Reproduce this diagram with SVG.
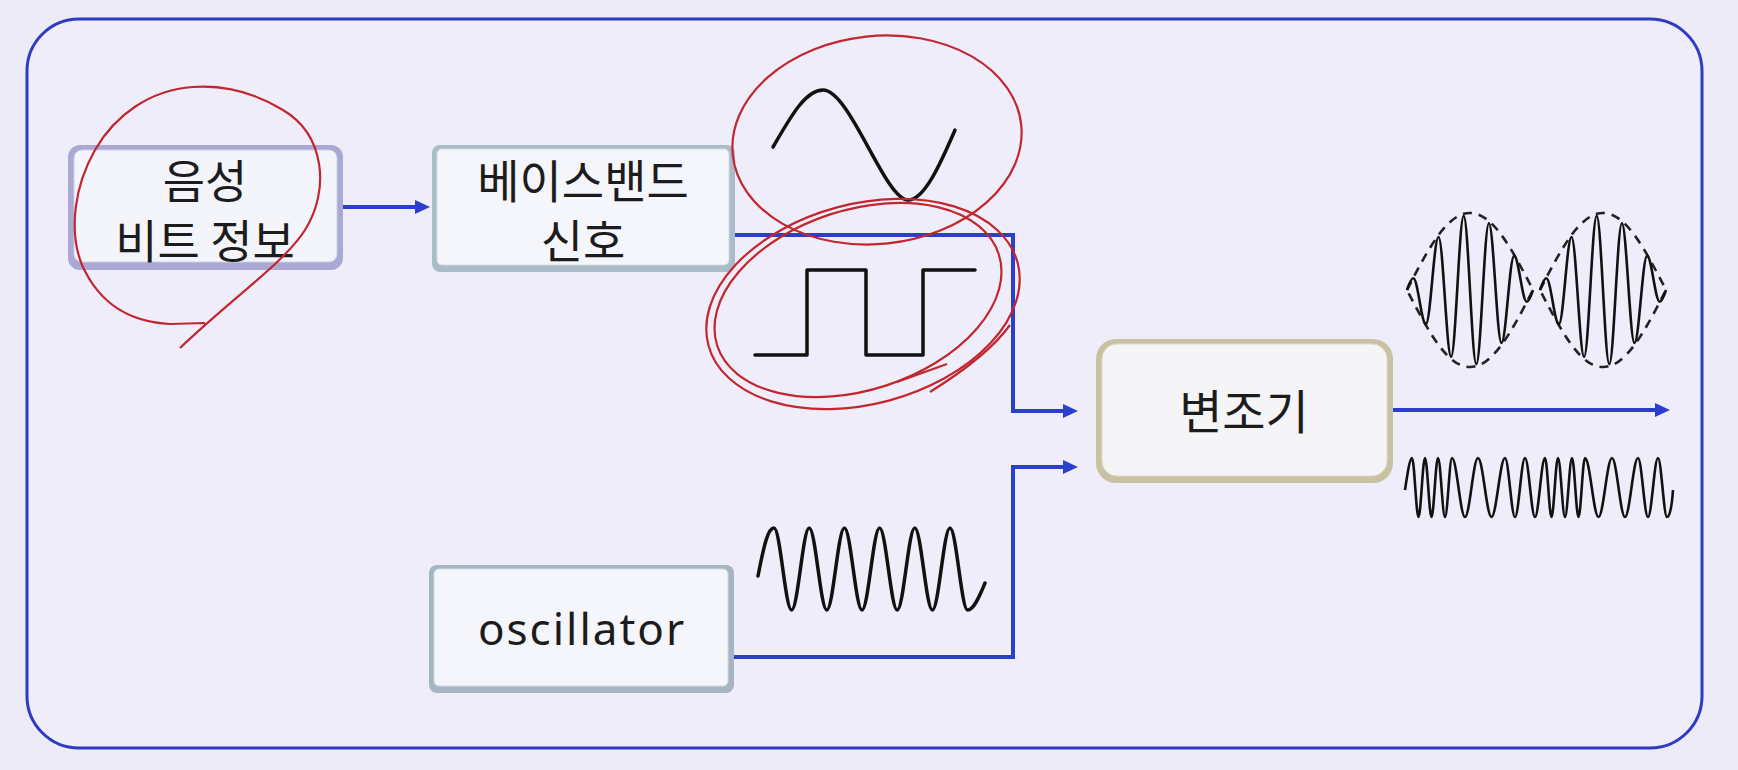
<svg xmlns="http://www.w3.org/2000/svg" width="1738" height="770" viewBox="0 0 1738 770">
<defs>
<style>
.kr{font-family:"Noto Sans CJK KR","Noto Sans",sans-serif;font-size:46px;fill:#1c1c1c;text-anchor:middle}
.en{font-family:"Noto Sans","Open Sans",sans-serif;font-size:44px;fill:#1c1c1c;text-anchor:middle;letter-spacing:2px}
.conn{fill:none;stroke:#2b3fcc;stroke-width:4}
.wave{fill:none;stroke:#111;stroke-width:3.5;stroke-linejoin:round;stroke-linecap:round}
.thin{fill:none;stroke:#111;stroke-width:2.6;stroke-linejoin:round}
.env{fill:none;stroke:#222;stroke-width:2.6;stroke-dasharray:9 7}
.red{fill:none;stroke:#c3262e;stroke-width:2.2}
</style>
<marker id="ah" markerUnits="userSpaceOnUse" markerWidth="16" markerHeight="14" refX="5" refY="7" orient="auto">
<path d="M0,0 L15,7 L0,14 Z" fill="#2b3fcc"/>
</marker>
<g id="amlobe">
<path class="env" d="M1407,290 C1430,245 1448,213 1470,213 C1492,213 1510,245 1533,290 C1510,335 1492,367 1470,367 C1448,367 1430,335 1407,290 Z"/>
<path class="thin" d="M1407,290 C1409,284 1411,278.3 1413.3,278.3 C1417.8,278.3 1421.4,324.1 1425.9,324.1 C1430.4,324.1 1434,237 1438.5,237 C1443,237 1446.6,356.8 1451.1,356.8 C1455.6,356.8 1459.2,215.9 1463.7,215.9 C1468.2,215.9 1471.8,364.1 1476.3,364.1 C1480.8,364.1 1484.4,223.2 1488.9,223.2 C1493.4,223.2 1497,343 1501.5,343 C1506,343 1509.6,255.9 1514.1,255.9 C1518.6,255.9 1522.2,301.7 1526.7,301.7 C1529,301.7 1531,296 1533,290"/>
</g>
</defs>
<rect x="0" y="0" width="1738" height="770" fill="#ecebf7"/>
<rect x="27" y="19" width="1675" height="729" rx="52" fill="#eeedf9" stroke="#2d3cc0" stroke-width="3"/>

<g id="connectors">
<line class="conn" x1="343" y1="207" x2="420" y2="207" marker-end="url(#ah)"/>
<polyline class="conn" points="722,235 1013,235 1013,411 1068,411" marker-end="url(#ah)"/>
<polyline class="conn" points="722,657 1013,657 1013,467 1068,467" marker-end="url(#ah)"/>
<line class="conn" x1="1393" y1="410" x2="1660" y2="410" marker-end="url(#ah)"/>
</g>

<g id="node-voice">
<rect x="68" y="145" width="275" height="125" rx="12" fill="#a9a9d4"/>
<rect x="74" y="150" width="263" height="112" rx="8" fill="#f4f4fb" stroke="#cfcfe9" stroke-width="1"/>
<text class="kr" x="205" y="198">음성</text>
<text class="kr" x="205" y="258">비트 정보</text>
</g>

<g id="node-baseband">
<rect x="432" y="145" width="303" height="127" rx="8" fill="#a9bcc7"/>
<rect x="437" y="149" width="292" height="116" rx="5" fill="#f5f6fb" stroke="#d3dde3" stroke-width="1"/>
<text class="kr" x="583" y="198">베이스밴드</text>
<text class="kr" x="583" y="258">신호</text>
</g>

<g id="node-oscillator">
<rect x="429" y="565" width="305" height="128" rx="8" fill="#a6b5c1"/>
<rect x="434" y="569" width="294" height="117" rx="5" fill="#f5f6fb" stroke="#d3dce3" stroke-width="1"/>
<text class="en" x="582" y="645">oscillator</text>
</g>

<g id="node-modulator">
<rect x="1096" y="339" width="297" height="144" rx="20" fill="#c8c2a3"/>
<rect x="1102" y="344" width="285" height="132" rx="15" fill="#f5f4f7" stroke="#e0dccb" stroke-width="1"/>
<text class="kr" x="1244" y="429" style="font-size:47px">변조기</text>
</g>

<g id="waves">
<path class="wave" d="M773,147 C790,118 805,90 823,90 C850,90 885,200 908,200 C925,200 942,160 955,130"/>
<polyline class="wave" points="755,355 807,355 807,270 866,270 866,355 923,355 923,270 975,270"/>
<path class="wave" stroke-width="4" d="M758,576 C764,545 768,528 774,528 C780.3,528 785.3,610 791.6,610 C797.9,610 802.9,528 809.2,528 C815.5,528 820.5,610 826.8,610 C833.1,610 838.1,528 844.4,528 C850.7,528 855.7,610 862,610 C868.3,610 873.3,528 879.6,528 C885.9,528 890.9,610 897.2,610 C903.5,610 908.5,528 914.8,528 C921.1,528 926.1,610 932.4,610 C938.7,610 943.7,528 950,528 C956.3,528 961.3,610 967.6,610 C974,610 980,595 985,583"/>
<use href="#amlobe"/>
<use href="#amlobe" transform="translate(133,0)"/>
<path class="thin" stroke-width="3" d="M1405,490 C1408,470 1410,458 1412,458 C1414.3,458 1416.2,517 1418.5,517 C1420.8,517 1422.7,458 1425,458 C1427.3,458 1429.2,517 1431.5,517 C1433.8,517 1435.7,458 1438,458 C1440.5,458 1442.5,517 1445,517 C1447.5,517 1449.5,458 1452,458 C1456.7,458 1460.3,517 1465,517 C1469.7,517 1473.3,458 1478,458 C1482.9,458 1486.6,517 1491.5,517 C1496.4,517 1500.1,458 1505,458 C1508.6,458 1511.4,517 1515,517 C1518.6,517 1521.4,458 1525,458 C1528.6,458 1531.4,517 1535,517 C1538.6,517 1541.4,458 1545,458 C1547.3,458 1549.2,517 1551.5,517 C1553.8,517 1555.7,458 1558,458 C1560.5,458 1562.5,517 1565,517 C1567.5,517 1569.5,458 1572,458 C1574.3,458 1576.2,517 1578.5,517 C1580.8,517 1582.7,458 1585,458 C1589.9,458 1593.6,517 1598.5,517 C1603.4,517 1607.1,458 1612,458 C1616.7,458 1620.3,517 1625,517 C1629.7,517 1633.3,458 1638,458 C1641.6,458 1644.4,517 1648,517 C1651.6,517 1654.4,458 1658,458 C1661.2,458 1663.8,517 1667,517 C1670,517 1672,505 1673,490"/>
</g>

<g id="annotations">
<path class="red" d="M180,348 C230,300 285,262 305,230 C330,190 325,135 283,110 C250,90 220,85 193,87 C150,90 115,115 95,150 C75,185 68,230 82,265 C100,305 130,322 170,324 L205,323"/>
<ellipse class="red" cx="877" cy="140" rx="145" ry="104" transform="rotate(-6 877 140)"/>
<ellipse class="red" cx="863" cy="304" rx="160" ry="100" transform="rotate(-15 863 304)"/>
<ellipse class="red" cx="858" cy="300" rx="148" ry="90" transform="rotate(-18 858 300)"/>
<path class="red" d="M897,382 L947,364"/>
<path class="red" d="M930,392 C962,372 992,350 1010,325"/>
</g>
</svg>
